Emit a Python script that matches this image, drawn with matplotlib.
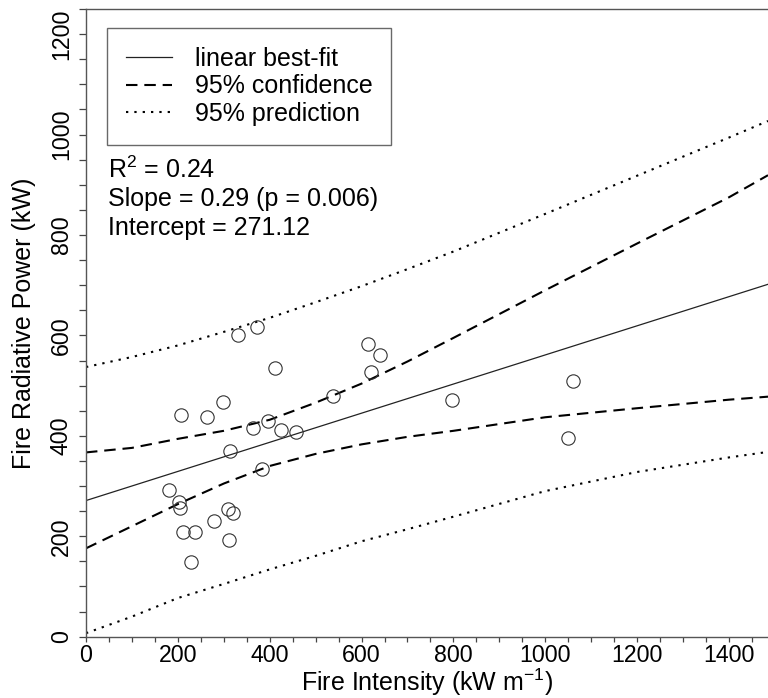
import matplotlib
matplotlib.use('Agg')
import matplotlib.pyplot as plt
from matplotlib.ticker import MultipleLocator

plt.rcParams['font.family'] = ['Liberation Sans', 'DejaVu Sans']
plt.rcParams['mathtext.fontset'] = 'custom'
plt.rcParams['mathtext.rm'] = 'Liberation Sans'
plt.rcParams['mathtext.default'] = 'regular'

intensity = [181, 202, 205, 207, 212, 237, 228, 263, 278, 298, 310, 321, 312, 314, 332,
             373, 363, 384, 397, 411, 424, 458, 538, 613, 620, 641, 797, 1060, 1049]
frp = [292, 269, 256, 442, 209, 209, 148, 437, 230, 468, 254, 247, 192, 370, 600,
       617, 415, 334, 430, 535, 411, 407, 480, 583, 527, 560, 472, 510, 395]

# regression summary
slope = 0.29
intercept = 271.12
r2 = 0.24
p_value = 0.006

# confidence / prediction bands
band_x = [0, 100, 200, 300, 400, 500, 600, 700, 800, 1000, 1200, 1400, 1485]
conf_upper = [367, 376, 394, 410, 432, 466, 504, 548, 595, 690, 783, 875, 919]
conf_lower = [176, 220, 264, 305, 340, 364, 383, 398, 410, 437, 455, 472, 478]
pred_upper = [537, 557, 580, 607, 635, 666, 698, 732, 767, 842, 918, 994, 1027]
pred_lower = [7, 40, 77, 105, 134, 161, 190, 214, 239, 290, 328, 357, 368]

fig = plt.figure(figsize=(7.68, 6.98), dpi=100)
ax = fig.add_axes([86 / 768, 1 - 636.7 / 698, (768 - 86) / 768, (636.7 - 9) / 698])

fit_line = ax.axline((0, intercept), slope=slope, color='#222222', lw=0.9,
                     label='linear best-fit')
conf_line, = ax.plot(band_x, conf_upper, color='black', lw=1.5, dashes=(5.5, 3.3),
                     label='95% confidence')
ax.plot(band_x, conf_lower, color='black', lw=1.5, dashes=(5.5, 3.3))
pred_line, = ax.plot(band_x, pred_upper, color='black', lw=1.5, dashes=(1.1, 2.9),
                     label='95% prediction')
ax.plot(band_x, pred_lower, color='black', lw=1.5, dashes=(1.1, 2.9))

ax.plot(intensity, frp, 'o', ms=9.6, mfc='none', mec='#333333', mew=0.8)

ax.set_xlim(0, 1485)
ax.set_ylim(0, 1250)
ax.xaxis.set_major_locator(MultipleLocator(200))
ax.xaxis.set_minor_locator(MultipleLocator(50))
ax.yaxis.set_major_locator(MultipleLocator(200))
ax.yaxis.set_minor_locator(MultipleLocator(50))

ax.spines['right'].set_visible(False)
for s in ['left', 'bottom', 'top']:
    ax.spines[s].set_color('#555555')
    ax.spines[s].set_linewidth(1.0)

ax.tick_params(axis='x', which='both', direction='out', length=3.6, width=0.9,
               color='#444444', labelsize=16.7, pad=2)
ax.tick_params(axis='y', which='both', direction='out', length=5, width=0.9,
               color='#444444', labelsize=16.7, pad=4.5)
ax.tick_params(axis='x', which='minor', labelbottom=False)
ax.tick_params(axis='y', which='minor', labelleft=False)
for lab in ax.get_yticklabels():
    lab.set_rotation(90)
    lab.set_va('center')

ax.set_xlabel('Fire Intensity (kW m$^{-1}$)', fontsize=18)
ax.xaxis.label.set_va('center')
ax.xaxis.set_label_coords(0.5, -0.0722)
ax.set_ylabel('Fire Radiative Power (kW)', fontsize=18)
ax.yaxis.label.set_va('center')
ax.yaxis.set_label_coords(-0.0909, 0.5)

leg = ax.legend(handles=[fit_line, conf_line, pred_line], loc='upper left',
                bbox_to_anchor=(0.0308, 0.970), borderaxespad=0, fontsize=18,
                frameon=True, fancybox=False, edgecolor='#444444',
                handlelength=1.85, handletextpad=0.9, borderpad=0.75,
                labelspacing=0.15)
leg.get_frame().set_linewidth(1.0)

ax.text(0.0323, 0.7435, 'R$^2$ = %.2f' % r2, transform=ax.transAxes,
        fontsize=18, va='center', ha='left')
ax.text(0.0323, 0.697, 'Slope = %.2f (p = %.3f)' % (slope, p_value),
        transform=ax.transAxes, fontsize=18, va='center', ha='left')
ax.text(0.0323, 0.651, 'Intercept = %.2f' % intercept, transform=ax.transAxes,
        fontsize=18, va='center', ha='left')

fig.savefig('out.png', dpi=100)
